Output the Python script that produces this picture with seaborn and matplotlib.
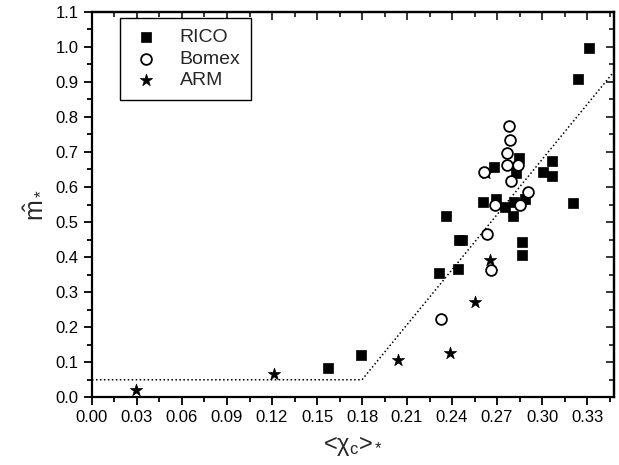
import matplotlib
matplotlib.use("Agg")
import matplotlib.pyplot as plt
from matplotlib.ticker import MultipleLocator, FormatStrFormatter
import numpy as np
import pandas as pd
import seaborn as sns

# RICO cases
rico_x = [0.3311, 0.3240, 0.3069, 0.3007, 0.3064, 0.3209, 0.2849, 0.2682, 0.2829,
          0.2606, 0.2695, 0.2751, 0.2815, 0.2884, 0.2806, 0.2357, 0.2448, 0.2468,
          0.2864, 0.2868, 0.2437, 0.2315, 0.1792, 0.1572]
rico_y = [0.996, 0.908, 0.674, 0.644, 0.630, 0.555, 0.682, 0.657, 0.639,
          0.558, 0.565, 0.544, 0.558, 0.567, 0.516, 0.517, 0.448, 0.448,
          0.443, 0.407, 0.367, 0.355, 0.121, 0.083]

# Bomex cases
bomex_x = [0.2777, 0.2789, 0.2766, 0.2768, 0.2842, 0.2791, 0.2615, 0.2904, 0.2851,
           0.2684, 0.2633, 0.2662, 0.2328]
bomex_y = [0.774, 0.733, 0.696, 0.664, 0.664, 0.618, 0.643, 0.586, 0.550,
           0.550, 0.467, 0.364, 0.223]

# ARM cases
arm_x = [0.2624, 0.2655, 0.2555, 0.2388, 0.2039, 0.1210, 0.0291]
arm_y = [0.641, 0.392, 0.271, 0.126, 0.107, 0.066, 0.021]

# piecewise-linear fit
fit_x = [0.0, 0.18, 0.35]
fit_y = [0.05, 0.05, 0.94]

sns.set_style("ticks")
plt.rcParams["font.family"] = ["Liberation Sans", "DejaVu Sans"]
plt.rcParams["mathtext.fontset"] = "custom"
plt.rcParams["mathtext.rm"] = "Liberation Sans"
plt.rcParams["mathtext.it"] = "Liberation Sans"

fig = plt.figure(figsize=(6.19, 4.65), dpi=100)
ax = fig.add_axes([0.1486, 0.1456, 0.992 - 0.1486, 0.9748 - 0.1456])

ax.plot(fit_x, fit_y, linestyle=(0, (1, 1.6)), color="black", linewidth=1.1, zorder=1)

rico = pd.DataFrame({"x": rico_x, "y": rico_y})
bomex = pd.DataFrame({"x": bomex_x, "y": bomex_y})
arm = pd.DataFrame({"x": arm_x, "y": arm_y})

sns.scatterplot(data=rico, x="x", y="y", ax=ax, marker="s", s=55, color="black",
                edgecolor="black", linewidth=0.5, label="RICO", zorder=3)
sns.scatterplot(data=bomex, x="x", y="y", ax=ax, marker="o", s=60, facecolor="white",
                edgecolor="black", linewidth=1.3, label="Bomex", zorder=4)
sns.scatterplot(data=arm, x="x", y="y", ax=ax, marker="*", s=85, color="black",
                edgecolor="black", linewidth=0.5, label="ARM", zorder=3)

ax.set_xlim(0, 0.348)
ax.set_ylim(0, 1.1)
ax.xaxis.set_major_locator(MultipleLocator(0.03))
ax.xaxis.set_minor_locator(MultipleLocator(0.015))
ax.yaxis.set_major_locator(MultipleLocator(0.1))
ax.yaxis.set_minor_locator(MultipleLocator(0.05))
ax.xaxis.set_major_formatter(FormatStrFormatter("%.2f"))
ax.yaxis.set_major_formatter(FormatStrFormatter("%.1f"))

for s in ax.spines.values():
    s.set_visible(True)
    s.set_linewidth(1.6)
    s.set_color("black")

ax.tick_params(which="both", direction="out", top=False, right=False,
               colors="black", labelsize=12, width=1.3)
ax.tick_params(which="major", length=6)
ax.tick_params(which="minor", length=3.5)

# inward ticks on the top and right edges
sec_x = ax.secondary_xaxis("top")
sec_x.xaxis.set_major_locator(MultipleLocator(0.03))
sec_x.xaxis.set_minor_locator(MultipleLocator(0.015))
sec_x.tick_params(which="both", direction="in", labeltop=False, width=1.3)
sec_x.tick_params(which="major", length=6)
sec_x.tick_params(which="minor", length=3.5)
sec_x.spines["top"].set_linewidth(1.6)
sec_y = ax.secondary_yaxis("right")
sec_y.yaxis.set_major_locator(MultipleLocator(0.1))
sec_y.yaxis.set_minor_locator(MultipleLocator(0.05))
sec_y.tick_params(which="both", direction="in", labelright=False, width=1.3)
sec_y.tick_params(which="major", length=6)
sec_y.tick_params(which="minor", length=3.5)
sec_y.spines["right"].set_linewidth(1.6)

ax.set_xlabel(r"<$\chi_c$>${}_*$", fontsize=17, labelpad=6)
ax.set_ylabel(r"$\hat{m}_*$", fontsize=18, labelpad=8)

leg = ax.legend(loc="upper left", bbox_to_anchor=(0.054, 0.984), fontsize=14,
                frameon=True, fancybox=False, edgecolor="black", framealpha=1,
                borderpad=0.55, handletextpad=0.9, labelspacing=0.2,
                handlelength=1.6, borderaxespad=0)
leg.get_frame().set_linewidth(1.0)

fig.savefig("out.png", dpi=100)
